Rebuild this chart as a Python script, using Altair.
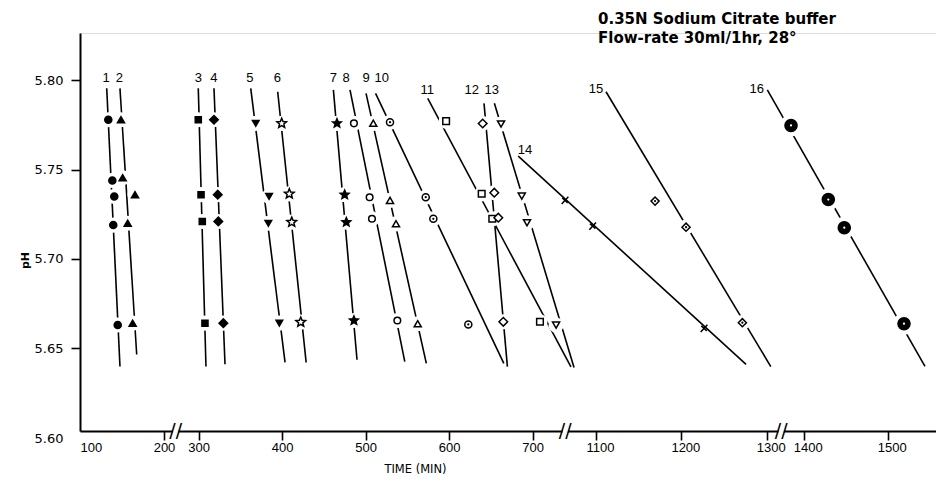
import math
import altair as alt
import pandas as pd

# ---------------- data ----------------
series_ids = [str(i) for i in range(1, 17)]

point_time = {
    "1": [133.7, 138.5, 140.8, 139.6, 144.9],
    "2": [148.8, 150.8, 165.5, 156.8, 162.7],
    "3": [299.5, 302.8, 304.3, 307.5],
    "4": [318.3, 322.8, 323.5, 329.5],
    "5": [368.3, 384.3, 383.4, 396.6],
    "6": [399.4, 408.5, 411.4, 422.2],
    "7": [465.6, 474.8, 476.8, 485.9],
    "8": [485.9, 504.7, 507.5, 537.9],
    "9": [509.1, 529.1, 536.3, 562.3],
    "10": [529.1, 571.9, 581.0, 622.9],
    "11": [596.3, 638.9, 651.6, 708.7],
    "12": [640.1, 654.0, 658.8, 664.8],
    "13": [662.1, 686.9, 693.2, 728.0],
    "14": [1063.7, 1096.1, 1226.6],
    "15": [1169.2, 1205.5, 1271.5],
    "16": [1384.9, 1429.3, 1448.3, 1519.4],
}
point_ph = {
    "1": [5.778, 5.744, 5.735, 5.719, 5.663],
    "2": [5.778, 5.7455, 5.736, 5.720, 5.664],
    "3": [5.778, 5.736, 5.721, 5.664],
    "4": [5.778, 5.736, 5.721, 5.664],
    "5": [5.776, 5.735, 5.720, 5.664],
    "6": [5.776, 5.7365, 5.7206, 5.6646],
    "7": [5.776, 5.736, 5.7206, 5.6655],
    "8": [5.776, 5.7346, 5.7225, 5.6655],
    "9": [5.776, 5.7328, 5.7197, 5.6637],
    "10": [5.7766, 5.7346, 5.7225, 5.6633],
    "11": [5.7772, 5.7365, 5.7225, 5.6648],
    "12": [5.7759, 5.7371, 5.7231, 5.6648],
    "13": [5.7756, 5.7352, 5.7203, 5.6629],
    "14": [5.7328, 5.7184, 5.6611],
    "15": [5.7324, 5.7178, 5.6643],
    "16": [5.7748, 5.7333, 5.7175, 5.6637],
}

# fitted lines: start and end of each line
line_top_time = [131.8, 147.6, 299.5, 318.3, 362.3, 394.6, 461.3, 481.2,
                 500.4, 511.8, 574.3, 641.7, 654.1, 1008.9, 1111.7, 1356.7]
line_top_ph = [5.7956, 5.7956, 5.7956, 5.7956, 5.7956, 5.7937, 5.7947, 5.7947,
               5.7928, 5.7928, 5.7900, 5.7872, 5.7872, 5.7576, 5.7937, 5.7947]
line_bot_time = [147.6, 167.5, 308.7, 331.5, 403.4, 428.7, 489.6, 546.8,
                 572.6, 665.4, 745.8, 669.7, 749.5, 1275.8, 1304.8, 1544.4]
line_bot_ph = [5.6397, 5.6465, 5.6397, 5.641, 5.642, 5.642, 5.6435, 5.6425,
               5.6415, 5.6415, 5.6395, 5.6397, 5.6392, 5.6409, 5.6397, 5.6398]

# series number labels
label_time = [131.0, 146.8, 299.5, 318.3, 361.4, 394.1, 461.2, 476.4,
              500.4, 519.2, 573.8, 626.9, 651.0, 1016.8, 1100.0, 1344.0]
label_ph = [5.8012, 5.8012, 5.8012, 5.8012, 5.8012, 5.8012, 5.8012, 5.8012,
            5.8012, 5.8012, 5.7947, 5.7947, 5.7947, 5.7613, 5.7950, 5.7952]

tick_times = [100, 200, 300, 400, 500, 600, 700, 1100, 1200, 1300, 1400, 1500]
break_times = [214, 739, 1317]
y_ticks = [5.65, 5.70, 5.75, 5.80]
y_min, y_max = 5.6036, 5.8266

title_lines = ["0.35N Sodium Citrate buffer", "Flow-rate 30ml/1hr, 28°"]

# ---------------- broken time axis (piecewise linear) ----------------
seg_limit = [250, 800, 1335, 1e9]
seg_t0 = [100, 300, 1100, 1400]
seg_p0 = [0.0, 118.7, 516.0, 723.7]
seg_rate = [0.84, 0.835, 0.8535, 0.84]
AXIS_LEN = 856


def axis_pos(t):
    for lim, t0, p0, r in zip(seg_limit, seg_t0, seg_p0, seg_rate):
        if t < lim:
            return p0 + (t - t0) * r


# ---------------- marker styles ----------------
def star_path(inner=0.45):
    pts = []
    for k in range(10):
        a = -math.pi / 2 + k * math.pi / 5
        r = 1.0 if k % 2 == 0 else inner
        pts.append(f"{r * math.cos(a):.3f},{r * math.sin(a):.3f}")
    return "M" + " L".join(pts) + " Z"


STAR = star_path()
CROSS14 = "M-0.67,0.74 L0.67,-0.74 M-0.55,-0.5 L0.55,0.5"
shape_range = ["circle", "triangle-up", "square", "diamond", "triangle-down",
               STAR, STAR, "circle", "triangle-up", "circle", "square",
               "diamond", "triangle-down", CROSS14, "diamond", "circle"]
fill_range = ["black", "black", "black", "black", "black", "white", "black",
              "white", "white", "white", "white", "white", "white", "black",
              "white", "black"]
size_range = [50, 50, 37, 74, 44, 102, 83, 44, 50, 50, 44, 74, 50, 100, 66, 146]
halo_range = [230] * 15 + [480]

# ---------------- tables ----------------
pts_rows = []
for s in series_ids:
    for t, p in zip(point_time[s], point_ph[s]):
        pts_rows.append({"series": s, "t": t, "ph": p, "x": axis_pos(t)})
pts = pd.DataFrame(pts_rows)

line_rows = []
for i, s in enumerate(series_ids):
    line_rows.append({"series": s, "t": line_top_time[i], "ph": line_top_ph[i],
                      "x": axis_pos(line_top_time[i])})
    line_rows.append({"series": s, "t": line_bot_time[i], "ph": line_bot_ph[i],
                      "x": axis_pos(line_bot_time[i])})
lines = pd.DataFrame(line_rows)

labels = pd.DataFrame({"series": series_ids, "t": label_time, "ph": label_ph,
                       "x": [axis_pos(t) for t in label_time]})

breaks = pd.DataFrame({"t": break_times, "x": [axis_pos(t) for t in break_times],
                       "ph": [y_min] * len(break_times)})

# ---------------- scales / axes ----------------
tick_pos = [axis_pos(t) for t in tick_times]
label_expr = " : ".join(
    f"abs(datum.value - {p:.3f}) < 0.5 ? '{t}'" for p, t in zip(tick_pos, tick_times)
) + " : ''"

xscale = alt.Scale(domain=[0, AXIS_LEN], nice=False, zero=False)
yscale = alt.Scale(domain=[y_min, y_max], nice=False, zero=False)

xaxis = alt.Axis(
    values=tick_pos, labelExpr=label_expr, title="TIME (MIN)", grid=False,
    domainColor="black", domainWidth=2, tickColor="black", tickWidth=1.6,
    tickSize=9, labelPadding=1, labelFont="Liberation Sans", labelFontSize=13,
    labelColor="black", labelFlush=True,
    labelOffset={"condition": {"test": "datum.value > 500", "value": 4}, "value": 0},
    tickOpacity={"condition": {"test": "datum.value < 1", "value": 0}, "value": 1},
    titleFont="DejaVu Sans", titleFontSize=11.5, titleFontWeight="normal",
    titleColor="black", titleX=335, titleY=38, titleBaseline="middle",
    titleAlign="center",
)
yaxis = alt.Axis(
    values=[y_min] + y_ticks,
    labelExpr="datum.value < 5.62 ? '5.60' : format(datum.value, '.2f')",
    title="pH", grid=False, domainColor="black", domainWidth=2,
    tickColor="black", tickWidth=1.6, tickSize=9, labelPadding=8,
    labelFont="DejaVu Sans", labelFontSize=13, labelColor="black",
    labelOffset={"condition": {"test": "datum.value < 5.62", "value": 7}, "value": 0},
    tickOpacity={"condition": {"test": "datum.value < 5.62", "value": 0}, "value": 1},
    titleFont="DejaVu Sans", titleFontSize=11, titleFontWeight="bold",
    titleColor="black", titleX=-55, titleY=227, titleBaseline="middle",
    titleAlign="center", titleAngle=270,
)


def X():
    return alt.X("x:Q", scale=xscale, axis=xaxis)


def Y():
    return alt.Y("ph:Q", scale=yscale, axis=yaxis)


# ---------------- layers ----------------
line_layer = alt.Chart(lines).mark_line(color="black", strokeWidth=1.6).encode(
    x=X(), y=Y(), detail="series:N"
)

halo_layer = alt.Chart(pts).transform_filter("datum.series != '14'").mark_point(
    shape="circle", filled=True, color="white", opacity=1, strokeWidth=0
).encode(
    x=X(), y=Y(),
    size=alt.Size("series:N", scale=alt.Scale(type="ordinal", domain=series_ids,
                                              range=halo_range), legend=None),
)

marker_layer = alt.Chart(pts).mark_point(opacity=1, strokeWidth=1.5).encode(
    x=X(), y=Y(),
    shape=alt.Shape("series:N", scale=alt.Scale(domain=series_ids, range=shape_range), legend=None),
    fill=alt.Fill("series:N", scale=alt.Scale(domain=series_ids, range=fill_range), legend=None),
    size=alt.Size("series:N", scale=alt.Scale(type="ordinal", domain=series_ids, range=size_range), legend=None),
    stroke=alt.value("black"),
)

dot_series = ["10", "15", "16"]
dot_layer = alt.Chart(pts).transform_filter(
    alt.FieldOneOfPredicate(field="series", oneOf=dot_series)
).mark_point(shape="circle", filled=True, opacity=1, strokeWidth=0).encode(
    x=X(), y=Y(),
    fill=alt.Fill("series:N", scale=alt.Scale(domain=dot_series,
                                              range=["black", "black", "white"]), legend=None),
    size=alt.Size("series:N", scale=alt.Scale(type="ordinal", domain=dot_series,
                                              range=[5, 5, 5]), legend=None),
)

label_layer = alt.Chart(labels).mark_text(
    font="Liberation Sans", fontSize=13, color="black", align="center", baseline="middle"
).encode(x=X(), y=Y(), text="series:N")

gap_layer = alt.Chart(breaks).mark_point(
    shape="square", filled=True, color="white", opacity=1, size=30, strokeWidth=0
).encode(x=X(), y=Y())

slash_layer = alt.Chart(breaks).mark_text(
    text="//", font="DejaVu Sans", fontSize=19, color="black",
    align="center", baseline="middle"
).encode(x=X(), y=Y())

chart = alt.layer(
    line_layer, halo_layer, marker_layer, dot_layer, label_layer, gap_layer, slash_layer
).resolve_scale(
    size="independent", fill="independent", shape="independent"
).properties(
    width=AXIS_LEN, height=398,
    autosize=alt.AutoSizeParams(type="none"),
    padding={"left": 80, "top": 33, "right": 0, "bottom": 50},
    title=alt.TitleParams(
        text=title_lines, anchor="start", frame="group", orient="top",
        dx=518, dy=25, offset=0, baseline="alphabetic", lineHeight=18.7,
        font="DejaVu Sans", fontSize=15, fontWeight="bold", color="black",
    ),
).configure_view(stroke=None).configure(background="white")

chart.save("out.html", embed_options={"renderer": "svg", "actions": False})
